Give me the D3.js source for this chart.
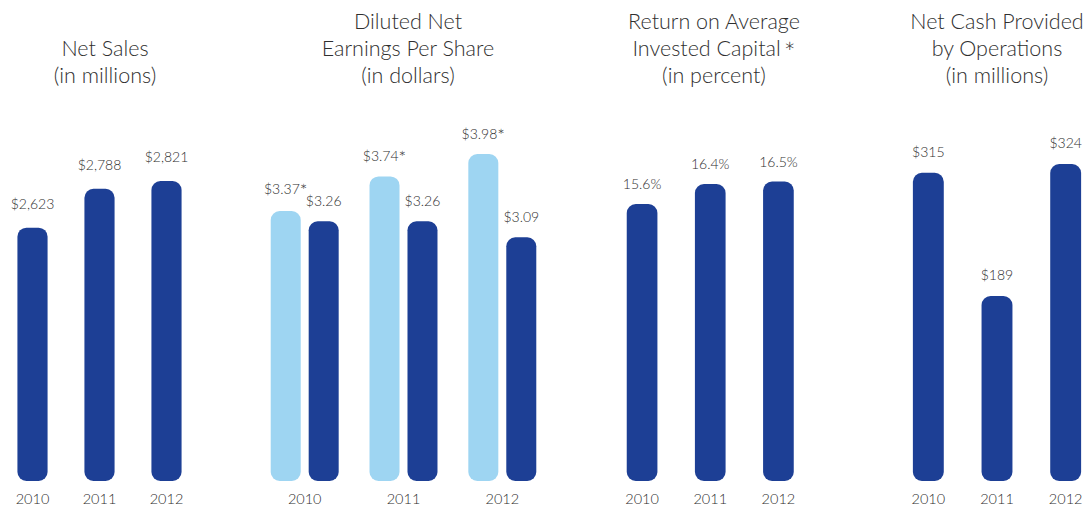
<!DOCTYPE html>
<html>
<head>
<meta charset="utf-8">
<script src="https://cdn.jsdelivr.net/npm/d3@7"></script>
<style>
  html, body { margin: 0; padding: 0; background: #fff; }
  svg { display: block; }
  text { font-family: "Lato", "Open Sans", sans-serif; font-weight: 300; fill: #2f2f2f; }
</style>
</head>
<body>
<svg width="1090" height="506"></svg>
<script>
// Chart data
const years = ['2010', '2011', '2012'];
const netSales = [2623, 2788, 2821];
const epsAdjusted = [3.37, 3.74, 3.98];   // light bars (with *)
const epsReported = [3.26, 3.26, 3.09];   // dark bars
const roic = [15.6, 16.4, 16.5];
const cashOps = [315, 189, 324];

const titleNetSales = ['Net Sales', '(in millions)'];
const titleEps = ['Diluted Net', 'Earnings Per Share', '(in dollars)'];
const titleRoic = ['Return on Average', 'Invested Capital', '(in percent)'];
const titleCash = ['Net Cash Provided', 'by Operations', '(in millions)'];

const dark = '#1d3f95';
const light = '#9ed5f2';
const baseY = 481;
const barRadius = 9;

const svg = d3.select('svg');

// Draws the stacked title lines, bottom aligned at y = 83
function drawTitle(lines, cx, star) {
  const g = svg.append('g');
  lines.forEach((line, i) => {
    const t = g.append('text')
      .attr('x', cx)
      .attr('y', 83 - (lines.length - 1 - i) * 27)
      .attr('text-anchor', 'middle')
      .style('font-size', '21.5px')
      .text(line);
    if (star && i === 1) {
      t.append('tspan').attr('dx', 3).attr('dy', 6).style('font-size', '28px').text('*');
    }
  });
}

function drawYears(x, offset) {
  svg.append('g').selectAll('text')
    .data(years)
    .join('text')
    .attr('x', d => x(d) + offset)
    .attr('y', 504)
    .attr('text-anchor', 'middle')
    .style('font-size', '14.5px')
    .text(d => d);
}

// Simple one-series panel
function singlePanel(values, fmt, range, domain, top, gap, title, titleX, star) {
  const x = d3.scaleBand().domain(years).range(range).paddingInner(0.55).paddingOuter(0.275);
  const y = d3.scaleLinear().domain(domain).range([baseY, top]);
  const g = svg.append('g');
  g.selectAll('rect')
    .data(values)
    .join('rect')
    .attr('x', (d, i) => x(years[i]))
    .attr('width', x.bandwidth())
    .attr('y', d => y(d))
    .attr('height', d => baseY - y(d))
    .attr('rx', barRadius)
    .attr('fill', dark);
  g.selectAll('text')
    .data(values)
    .join('text')
    .attr('x', (d, i) => x(years[i]) + x.bandwidth() / 2)
    .attr('y', d => y(d) - gap)
    .attr('text-anchor', 'middle')
    .style('font-size', '14px')
    .text(fmt);
  drawYears(x, x.bandwidth() / 2);
  drawTitle(title, titleX, star);
}

singlePanel(netSales, d3.format('$,'), [-1, 200], [1550, 2821], 181, 19, titleNetSales, 105);
singlePanel(roic, d => d3.format('.1f')(d) + '%', [608, 812.5], [4.52, 16.5], 181.5, 15, titleRoic, 714, true);
singlePanel(cashOps, d => '$' + d, [894, 1100], [0, 324], 164, 16, titleCash, 997);

// Grouped EPS panel
(function () {
  const x0 = d3.scaleBand().domain(years).range([255.3, 551.7]).paddingInner(0.312).paddingOuter(0.156);
  const x1 = d3.scaleBand().domain(['adj', 'rep']).range([0, x0.bandwidth()]).paddingInner(0.21);
  const y = d3.scaleLinear().domain([0.485, 3.98]).range([baseY, 154]);
  const fmt = d3.format('$.2f');
  const rows = years.map((yr, i) => [
    { yr, key: 'adj', v: epsAdjusted[i], color: light, label: fmt(epsAdjusted[i]), star: true },
    { yr, key: 'rep', v: epsReported[i], color: dark, label: fmt(epsReported[i]), star: false }
  ]).flat();
  const g = svg.append('g');
  g.selectAll('rect')
    .data(rows)
    .join('rect')
    .attr('x', d => x0(d.yr) + x1(d.key))
    .attr('width', x1.bandwidth())
    .attr('y', d => y(d.v))
    .attr('height', d => baseY - y(d.v))
    .attr('rx', barRadius)
    .attr('fill', d => d.color);

  // label positions, lifting the starred label if it collides with its neighbour
  rows.forEach(d => { d.ly = y(d.v) - 15; });
  for (let i = 0; i < rows.length; i += 2) {
    const a = rows[i], b = rows[i + 1];
    if (Math.abs(a.ly - b.ly) < 12) a.ly = b.ly - 12;
  }
  const labels = g.selectAll('text')
    .data(rows)
    .join('text')
    .attr('x', d => x0(d.yr) + x1(d.key) + x1.bandwidth() / 2)
    .attr('y', d => d.ly)
    .attr('text-anchor', 'middle')
    .style('font-size', '14px')
    .text(d => d.label);
  labels.filter(d => d.star)
    .append('tspan')
    .attr('dy', 3)
    .style('font-size', '18px')
    .text('*');
  drawYears(x0, x0.bandwidth() / 2);
  drawTitle(titleEps, 408);
})();
</script>
</body>
</html>
